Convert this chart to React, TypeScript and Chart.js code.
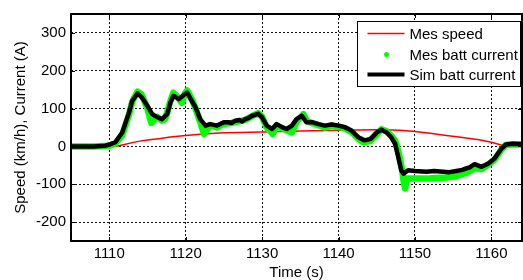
import { useEffect, useRef } from 'react';
import { Chart, registerables } from 'chart.js';

Chart.register(...registerables);

const FONT = "'Liberation Sans', Arial, Helvetica, sans-serif";

const xTicks = [1110, 1120, 1130, 1140, 1150, 1160];
const yTicks = [-200, -100, 0, 100, 200, 300];
const legendLabels = ['Mes speed', 'Mes batt current', 'Sim batt current'];
const xTitle = 'Time (s)';
const yTitle = 'Speed (km/h), Current (A)';

// Mes speed (red)
const speedTime = [1105, 1110.5, 1111.1, 1112, 1113, 1114, 1115, 1116.7, 1118, 1120, 1122.3, 1125, 1127, 1130, 1135, 1140, 1145, 1146, 1148, 1149.7, 1152, 1154.1, 1156, 1158.4, 1160, 1161.4, 1162, 1165];
const speedValues = [0, 0, 1, 5, 10, 14, 17, 21, 25, 29, 33, 36, 37, 38, 41, 43, 44, 44, 43, 40, 35, 29, 24, 17.5, 11, 3, 0, 0];

// Mes batt current (green)
const mesTime = [1105, 1108, 1110, 1110.8, 1111.7, 1112.6, 1113.0, 1113.7, 1114.2, 1114.6, 1115.0, 1115.5, 1115.8, 1116.3, 1116.9, 1117.3, 1117.6, 1118.0, 1118.4, 1119.0, 1119.5, 1119.9, 1120.2, 1120.8, 1121.3, 1121.9, 1122.4, 1122.8, 1123.2, 1124.1, 1125.0, 1126.0, 1127.8, 1128.7, 1129.5, 1130.0, 1130.6, 1131.4, 1131.9, 1132.6, 1133.9, 1134.5, 1135.4, 1135.8, 1136.5, 1137.4, 1138.2, 1139.1, 1140.0, 1140.8, 1141.7, 1142.6, 1143.2, 1144.1, 1145.0, 1145.6, 1146.3, 1146.9, 1147.4, 1147.7, 1148.0, 1148.3, 1148.5, 1148.7, 1148.9, 1149.3, 1150, 1152, 1154, 1155.4, 1156.7, 1157.8, 1158.7, 1159.6, 1160.4, 1161.3, 1161.9, 1162.8, 1165];
const mesCurrent = [0, 0, 2, 8, 30, 85, 118, 145, 138, 120, 100, 62, 70, 78, 68, 72, 90, 120, 142, 130, 115, 140, 148, 125, 100, 65, 33, 45, 56, 50, 60, 62, 70, 80, 88, 78, 50, 33, 55, 48, 37, 65, 85, 68, 62, 56, 50, 55, 52, 48, 38, 20, 11, 14, 32, 45, 40, 28, 15, -5, -30, -60, -90, -111, -85, -85, -85, -84, -82, -78, -70, -58, -60, -48, -35, -8, 4, 6, 6];

// Sim batt current (black)
const simTime = [1105, 1108, 1109.5, 1110, 1110.8, 1111.7, 1112.6, 1113.0, 1113.7, 1114.3, 1115.0, 1115.6, 1116.3, 1116.9, 1117.6, 1118.0, 1118.4, 1119.1, 1119.75, 1120.2, 1120.8, 1121.3, 1121.9, 1122.6, 1123.2, 1124.1, 1125.0, 1125.6, 1126.0, 1126.5, 1127.0, 1127.4, 1127.8, 1128.2, 1128.7, 1129.5, 1130.0, 1130.6, 1131.3, 1131.9, 1132.6, 1133.2, 1133.9, 1134.5, 1135.2, 1135.8, 1136.5, 1137.4, 1138.2, 1139.1, 1140.0, 1140.8, 1141.7, 1142.6, 1143.4, 1144.2, 1145.0, 1145.6, 1146.3, 1146.9, 1147.4, 1147.7, 1148.0, 1148.2, 1148.5, 1149.1, 1150, 1151.5, 1152.5, 1153.7, 1154.5, 1155.4, 1156.2, 1156.7, 1157.2, 1157.8, 1158.7, 1159.6, 1160.4, 1161.3, 1161.9, 1162.8, 1165];
const simCurrent = [0, 0, 2, 5, 11, 37, 90, 120, 140, 129, 107, 86, 77, 72, 86, 116, 134, 125, 136, 142, 120, 103, 72, 55, 59, 55, 64, 64, 62, 68, 70, 66, 72, 75, 81, 86, 77, 55, 46, 59, 51, 46, 55, 72, 81, 64, 64, 59, 55, 58, 55, 51, 42, 24, 16, 20, 37, 44, 37, 24, 7, -19, -45, -63, -72, -63, -65, -67, -65, -67, -68, -65, -62, -58, -55, -47, -54, -45, -32, -6, 5, 7, 5];

const toPoints = (t: number[], v: number[]) => t.map((x, i) => ({ x, y: v[i] }));

const framePlugin = {
  id: 'matlabFrame',
  afterDatasetsDraw(chart: any) {
    const { ctx, chartArea: a } = chart;
    const xs = chart.scales.x;
    const ys = chart.scales.y;
    ctx.save();
    ctx.strokeStyle = '#000';
    ctx.lineWidth = 1;
    ctx.setLineDash([]);
    const seg = (x1: number, y1: number, x2: number, y2: number) => {
      ctx.beginPath();
      ctx.moveTo(x1, y1);
      ctx.lineTo(x2, y2);
      ctx.stroke();
    };
    for (const v of xTicks) {
      const px = Math.round(xs.getPixelForValue(v)) + 0.5;
      seg(px, a.top, px, a.top + 4);
      seg(px, a.bottom, px, a.bottom - 4);
    }
    for (const v of yTicks) {
      const py = Math.round(ys.getPixelForValue(v)) + 0.5;
      seg(a.left, py, a.left + 4, py);
      seg(a.right, py, a.right - 4, py);
    }
    ctx.lineWidth = 2;
    ctx.strokeRect(a.left, a.top, a.right - a.left, a.bottom - a.top);

    // legend box
    const bw = 163;
    const bh = 65;
    const bx = Math.round(a.right - 2 - bw) + 0.5;
    const by = Math.round(a.top + 7) + 0.5;
    ctx.fillStyle = '#fff';
    ctx.fillRect(bx, by, bw, bh);
    ctx.lineWidth = 1;
    ctx.strokeStyle = '#000';
    ctx.strokeRect(bx, by, bw, bh);
    const rows = [12, 33, 53];
    const colors = ['#ff0000', '#00ff00', '#000000'];
    ctx.font = `15px ${FONT}`;
    ctx.textBaseline = 'middle';
    ctx.textAlign = 'left';
    rows.forEach((dy, i) => {
      const cy = by + dy;
      if (i === 1) {
        ctx.fillStyle = colors[i];
        ctx.beginPath();
        ctx.arc(bx + 29, cy, 2.5, 0, Math.PI * 2);
        ctx.fill();
      } else {
        ctx.strokeStyle = colors[i];
        ctx.lineWidth = i === 0 ? 1.5 : 4;
        seg(bx + 10, cy, bx + 47, cy);
      }
      ctx.fillStyle = '#000';
      ctx.fillText(legendLabels[i], bx + 52, cy + 1);
    });
    ctx.restore();
  },
};

export default function App() {
  const ref = useRef<HTMLCanvasElement | null>(null);
  useEffect(() => {
    if (!ref.current) return;
    const chart = new Chart(ref.current, {
      type: 'line',
      data: {
        datasets: [
          {
            label: legendLabels[0],
            data: toPoints(speedTime, speedValues),
            borderColor: '#ff0000',
            borderWidth: 1.5,
            pointRadius: 0,
            tension: 0,
            order: 3,
          },
          {
            label: legendLabels[1],
            data: toPoints(mesTime, mesCurrent),
            borderColor: '#00ff00',
            borderWidth: 6.5,
            borderCapStyle: 'round',
            borderJoinStyle: 'round',
            pointRadius: 0,
            tension: 0,
            order: 2,
          },
          {
            label: legendLabels[2],
            data: toPoints(simTime, simCurrent),
            borderColor: '#000000',
            borderWidth: 4.5,
            borderCapStyle: 'round',
            borderJoinStyle: 'round',
            pointRadius: 0,
            tension: 0,
            order: 1,
          },
        ],
      },
      options: {
        animation: false,
        responsive: false,
        maintainAspectRatio: false,
        layout: { padding: { top: 12, right: 1, left: 0, bottom: 0 } },
        plugins: { legend: { display: false }, tooltip: { enabled: false } },
        scales: {
          x: {
            type: 'linear',
            min: 1105,
            max: 1164,
            afterBuildTicks: (s: any) => {
              s.ticks = xTicks.map((value) => ({ value }));
            },
            afterFit: (s: any) => {
              s.height = 39;
            },
            ticks: {
              color: '#000',
              font: { family: FONT, size: 15 },
              padding: 4,
              maxRotation: 0,
              autoSkip: false,
              callback: (v: any) => String(v),
            },
            grid: { color: '#111', lineWidth: 1, drawTicks: false },
            border: { display: false, dash: [2, 2] },
            title: {
              display: true,
              text: xTitle,
              color: '#000',
              font: { family: FONT, size: 15 },
              padding: { top: 0, bottom: -2 },
            },
          },
          y: {
            type: 'linear',
            min: -250,
            max: 350,
            afterBuildTicks: (s: any) => {
              s.ticks = yTicks.map((value) => ({ value }));
            },
            afterFit: (s: any) => {
              s.width = 71;
            },
            ticks: {
              color: '#000',
              font: { family: FONT, size: 15 },
              padding: 5,
              autoSkip: false,
              callback: (v: any) => String(v),
            },
            grid: { color: '#111', lineWidth: 1, drawTicks: false },
            border: { display: false, dash: [2, 2] },
            title: {
              display: true,
              text: yTitle,
              color: '#000',
              font: { family: FONT, size: 15 },
              padding: { top: 12, bottom: 0 },
            },
          },
        },
      },
      plugins: [framePlugin],
    } as any);
    return () => chart.destroy();
  }, []);
  return (
    <div style={{ position: 'absolute', left: 0, top: 0, width: 523, height: 280, background: '#fff' }}>
      <canvas ref={ref} width={523} height={280} style={{ display: 'block', width: 523, height: 280 }} />
    </div>
  );
}
